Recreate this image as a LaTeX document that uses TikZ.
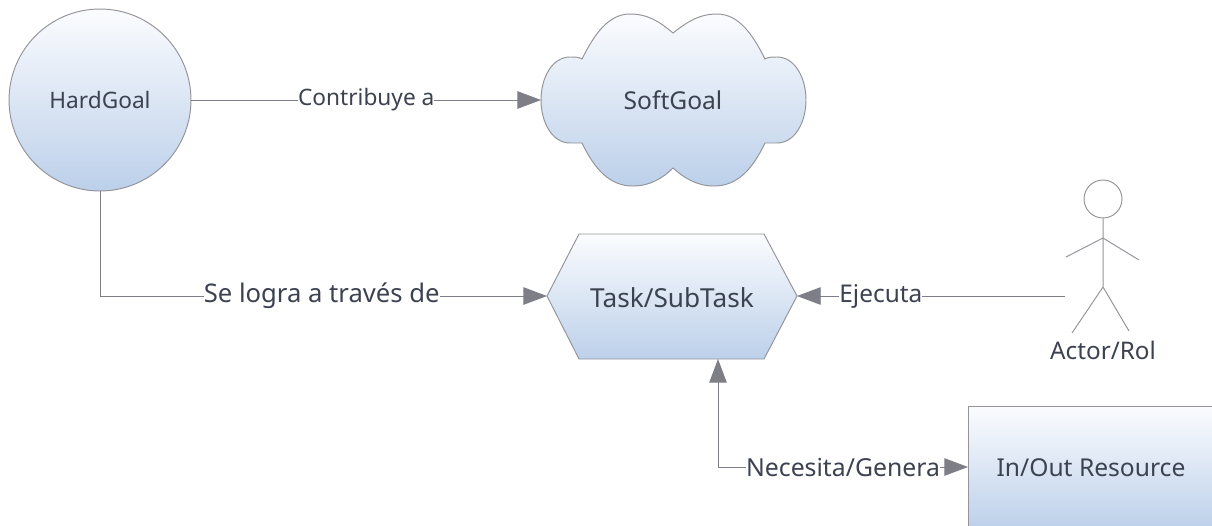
\documentclass[tikz,border=0pt]{standalone}
\usepackage{fontspec}
\setmainfont{Noto Sans}
\usetikzlibrary{arrows.meta, positioning}
\definecolor{linegray}{HTML}{94949A}
\definecolor{tipgray}{HTML}{7E7E86}
\definecolor{textgray}{HTML}{3C4250}
\definecolor{topblue}{HTML}{FBFCFE}
\definecolor{lowblue}{HTML}{BCD0EA}
\tikzset{
    shapefill/.style={draw=linegray, line width=0.55pt, top color=topblue, bottom color=lowblue},
    conn/.style={draw=linegray, line width=0.55pt, >={Triangle[length=13.5pt, width=10pt, fill=tipgray]}, tipgray},
    edgelabel/.style={fill=white, inner sep=0pt, text=textgray, font=\fontsize{#1}{15}\selectfont},
    shapelabel/.style={text=textgray, font=\fontsize{#1}{15}\selectfont},
    stick/.style={draw=linegray, line width=0.55pt}
}
\begin{document}
\begin{tikzpicture}[x=0.02cm, y=-0.02cm]
    \path[use as bounding box, clip] (0, 0) rectangle (1212, 525);
    \node[shapefill, shapelabel=12.9, circle, minimum size=3.64cm, inner sep=0pt] (hard) at (100, 100) {HardGoal};
    \path[shapefill] (673, 33)
        .. controls (660, 22) and (648, 14) .. (630, 14)
        .. controls (608, 14) and (594, 35) .. (582, 59)
        .. controls (579, 57) and (575, 57) .. (570, 57)
        .. controls (552, 57) and (541, 78) .. (541, 100)
        .. controls (541, 122) and (552, 143) .. (570, 143)
        .. controls (575, 143) and (579, 143) .. (582, 143)
        .. controls (595, 170) and (610, 186) .. (633, 186)
        .. controls (650, 186) and (663, 178) .. (673, 168)
        .. controls (684, 178) and (697, 186) .. (714, 186)
        .. controls (737, 186) and (752, 170) .. (765, 143)
        .. controls (768, 143) and (772, 143) .. (777, 143)
        .. controls (795, 143) and (806, 122) .. (806, 100)
        .. controls (806, 78) and (795, 57) .. (777, 57)
        .. controls (772, 57) and (768, 57) .. (765, 59)
        .. controls (753, 35) and (739, 14) .. (717, 14)
        .. controls (699, 14) and (687, 22) .. (673, 33) -- cycle;
    \node[shapelabel=14] (soft) at (673, 100) {SoftGoal};
    \coordinate (softwest) at (541, 100);
    \path[shapefill] (547, 296) -- (579, 234) -- (764, 234) -- (797, 296) -- (764, 359) -- (579, 359) -- cycle;
    \node[shapelabel=14.9] (task) at (672, 298) {Task/SubTask};
    \coordinate (taskwest) at (547, 296);
    \coordinate (taskeast) at (797, 296);
    \coordinate (tasksouth) at (718, 359);
    \node[shapefill, shapelabel=14, minimum width=4.92cm, minimum height=2.48cm, inner sep=0pt] (res) at (1091, 468) {In/Out Resource};
    \coordinate (reswest) at (968, 467);
    \node[stick, circle, minimum size=0.76cm, inner sep=0pt] (head) at (1103, 199) {};
    \coordinate (shoulder) at (1103, 238);
    \coordinate (hip) at (1103, 287);
    \coordinate (handl) at (1066, 257);
    \coordinate (handr) at (1139, 260);
    \coordinate (footl) at (1072, 333);
    \coordinate (footr) at (1129, 331);
    \coordinate (actorend) at (1065, 296);
    \node[shapelabel=13.8] (actor) at (1103, 350) {Actor/Rol};
    \draw[stick]
        (head) -- (hip)
        (handl) -- (shoulder) -- (handr)
        (footl) -- (hip) -- (footr);
    \draw[conn, ->] (hard) -- node[edgelabel=12.9] {Contribuye a} (softwest);
    \draw[conn, ->] (hard) |- node[edgelabel=14.6, pos=0.748] {Se logra a través de} (taskwest);
    \draw[conn, ->] (actorend) -- node[edgelabel=13.9, pos=0.687] {Ejecuta} (taskeast);
    \draw[conn, <->] (tasksouth) |- node[edgelabel=14.1, pos=0.75] {Necesita/Genera} (reswest);
\end{tikzpicture}
\end{document}
